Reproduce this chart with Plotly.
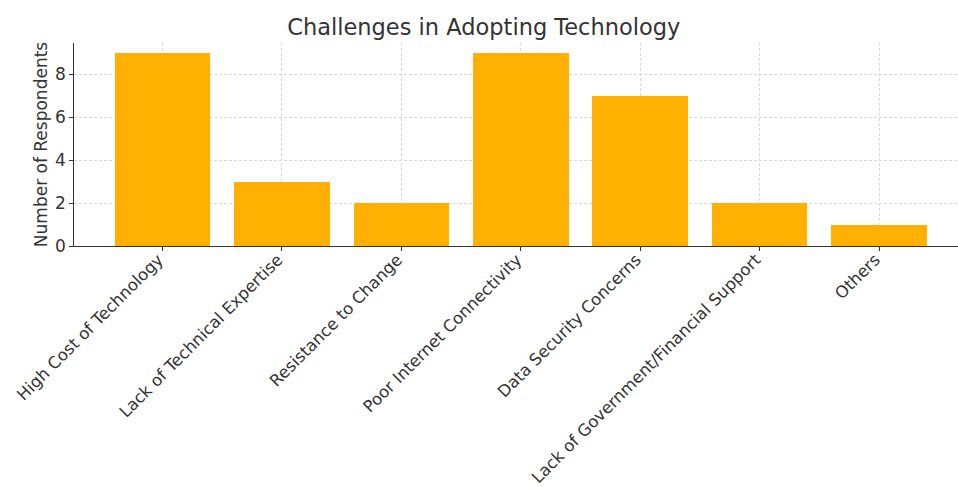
import plotly.graph_objects as go

categories = [
    "High Cost of Technology",
    "Lack of Technical Expertise",
    "Resistance to Change",
    "Poor Internet Connectivity",
    "Data Security Concerns",
    "Lack of Government/Financial Support",
    "Others",
]
respondents = [9, 3, 2, 9, 7, 2, 1]

text_color = "#333333"
bar_color = "#FFB000"
font_family = "DejaVu Sans"
grid_style = dict(showgrid=True, gridcolor="#D9D9D9", griddash="3px,2px", gridwidth=0.8)

fig = go.Figure(
    go.Bar(
        x=list(range(len(categories))),
        y=respondents,
        width=0.8,
        marker=dict(color=bar_color, line=dict(width=0)),
    )
)

fig.update_layout(
    width=958,
    height=487,
    margin=dict(l=74, r=0, t=43, b=241),
    paper_bgcolor="white",
    plot_bgcolor="white",
    font=dict(family=font_family, color=text_color, size=17),
    title=dict(
        text="Challenges in Adopting Technology",
        x=0.505,
        xanchor="center",
        y=0.945,
        yanchor="middle",
        font=dict(size=22.5, color=text_color),
    ),
    showlegend=False,
    bargap=0,
)

fig.update_xaxes(
    range=[-0.74, 6.66],
    tickmode="array",
    tickvals=list(range(len(categories))),
    ticktext=categories,
    tickangle=-45,
    ticks="outside",
    ticklen=3.5,
    tickcolor=text_color,
    ticklabelstandoff=-7,
    ticklabelshift=-4,
    showline=True,
    linecolor=text_color,
    linewidth=1.3,
    tickfont=dict(size=16.5),
    zeroline=False,
    automargin=False,
    **grid_style,
)

fig.update_yaxes(
    range=[0, 9.45],
    tickvals=[0, 2, 4, 6, 8],
    ticks="outside",
    ticklen=3.5,
    tickcolor=text_color,
    showline=True,
    linecolor=text_color,
    linewidth=1.3,
    zeroline=False,
    automargin=False,
    tickfont=dict(size=17),
    title=dict(text="Number of Respondents", font=dict(size=17), standoff=3),
    **grid_style,
)

fig.write_html("out.html")
